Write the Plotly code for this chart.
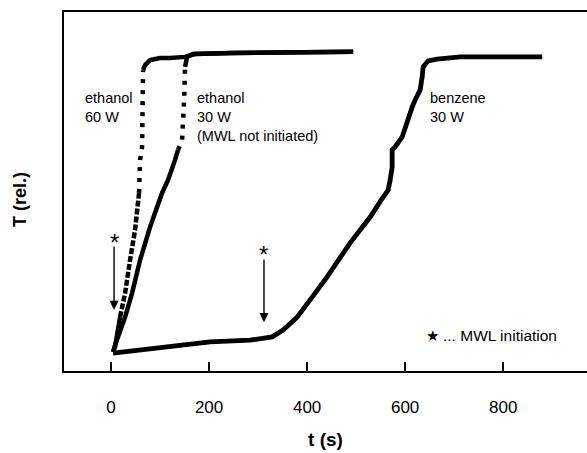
import plotly.graph_objects as go

# ---- data (t in s, T relative units 0..100) ----
eth60_t = [4.1, 8.2, 18.4, 28.6, 38.8, 49.0, 57.1, 59.2, 63.3, 65.3, 65.3, 69.4, 79.6, 100.0, 120.4, 151.0, 171.0, 250.0, 494.0]
eth60_T = [5.3, 6.7, 15.0, 21.7, 30.9, 39.3, 49.6, 58.8, 62.4, 72.7, 83.8, 85.2, 86.6, 87.2, 87.2, 87.5, 88.3, 88.6, 88.9]

eth30_t = [4.1, 8.2, 28.6, 42.9, 59.2, 79.6, 104.1, 116.3, 130.6, 136.7, 144.9, 149.0, 151.0, 155.1, 167.3, 242.9, 494.0]
eth30_T = [5.3, 7.2, 15.0, 21.7, 30.9, 40.1, 49.6, 53.2, 58.8, 61.6, 64.3, 75.5, 84.7, 87.5, 88.3, 88.6, 88.9]

benz_t = [4.1, 202.0, 283.7, 328.6, 351.0, 379.6, 406.1, 440.8, 487.8, 528.6, 551.0, 565.3, 569.4, 573.5, 573.5,
          579.6, 593.9, 604.1, 614.3, 620.4, 630.6, 634.7, 636.7, 646.9, 665.3, 712.2, 879.6]
benz_T = [5.0, 8.1, 8.6, 9.5, 11.4, 15.0, 19.8, 26.2, 35.7, 42.9, 47.6, 50.4, 53.2, 56.8, 61.6,
          62.4, 65.2, 69.9, 73.5, 75.5, 78.3, 81.9, 84.7, 86.4, 86.9, 87.5, 87.5]

x_ticks = [0, 200, 400, 600, 800]

# MWL initiation markers: (t of arrow, T of tip, T of tail, T of asterisk)
init_t = [6.1, 312.0]
init_tip = [17.0, 13.6]
init_tail = [35.1, 31.5]
init_star = [37.0, 33.7]

labels = ["ethanol<br>60 W", "ethanol<br>30 W<br>(MWL not initiated)", "benzene<br>30 W"]
label_t = [-57.1, 171.4, 647.0]
label_T = [73.4, 70.8, 73.4]

FONT = "Liberation Sans, Arial, sans-serif"

fig = go.Figure()

def seg(tt, TT, i0, i1, dash, width=4.5):
    fig.add_trace(go.Scatter(x=tt[i0:i1 + 1], y=TT[i0:i1 + 1], mode="lines",
                             line=dict(color="black", width=width, dash=dash),
                             hoverinfo="skip", showlegend=False))

# ethanol 60 W: solid start, dashed, sparse dotted, solid plateau
seg(eth60_t, eth60_T, 0, 2, "solid")
seg(eth60_t, eth60_T, 2, 6, "6px,2px")
seg(eth60_t, eth60_T, 6, 10, "4px,7px")
seg(eth60_t, eth60_T, 10, len(eth60_t) - 1, "solid")

# ethanol 30 W
seg(eth30_t, eth30_T, 0, 9, "solid")
seg(eth30_t, eth30_T, 9, 12, "4px,7px")
seg(eth30_t, eth30_T, 12, len(eth30_t) - 1, "solid")

# benzene 30 W
seg(benz_t, benz_T, 0, len(benz_t) - 1, "solid", width=4.8)

ann = []
for txt, xt, yt in zip(labels, label_t, label_T):
    ann.append(dict(x=xt, y=yt, text=txt, showarrow=False, xanchor="left", yanchor="middle",
                    align="left", font=dict(family=FONT, size=14.5, color="black")))

for t0, tip, tail, star in zip(init_t, init_tip, init_tail, init_star):
    ann.append(dict(x=t0, y=tip, ax=t0, ay=tail, axref="x", ayref="y", text="",
                    showarrow=True, arrowhead=2, arrowsize=1.3, arrowwidth=1.4, arrowcolor="black"))
    ann.append(dict(x=t0, y=star, text="*", showarrow=False, xanchor="center", yanchor="middle",
                    font=dict(family=FONT, size=24, color="black"), yshift=-4))

# legend note
ann.append(dict(x=647.0, y=10.0, text="★", showarrow=False, xanchor="left", yanchor="middle",
                font=dict(family="DejaVu Sans", size=15, color="black"), xshift=-4, yshift=-1))
ann.append(dict(x=647.0, y=10.0, text="... MWL initiation", showarrow=False, xanchor="left",
                yanchor="middle", xshift=13, font=dict(family=FONT, size=15.5, color="black")))

# y title (paper coords derived from pixel placement)
ann.append(dict(x=(20 - 64) / 523.0, y=(371 - 200) / 359.0, xref="paper", yref="paper",
                xanchor="center", yanchor="middle", text="<b>T (rel.)</b>", textangle=-90,
                showarrow=False, font=dict(family=FONT, size=18, color="black")))

fig.update_layout(
    width=587, height=453,
    margin=dict(l=64, r=0, t=12, b=82),
    paper_bgcolor="white", plot_bgcolor="white",
    annotations=ann,
    xaxis=dict(range=[-96, 971], tickvals=x_ticks, ticktext=[str(v) for v in x_ticks],
               ticks="inside", ticklen=9, tickwidth=1.5, tickcolor="black",
               showline=True, linecolor="black", linewidth=1.8, mirror=True,
               showgrid=False, zeroline=False, ticklabelstandoff=20,
               tickfont=dict(family=FONT, size=17, color="black"),
               title=dict(text="<b>t (s)</b>", font=dict(family=FONT, size=19, color="black"), standoff=16)),
    yaxis=dict(range=[0, 100], showticklabels=False, ticks="", showline=True, linecolor="black",
               linewidth=1.6, showgrid=False, zeroline=False),
)

fig.write_html("out.html", config={"displayModeBar": False},
               post_script="document.body.style.margin='0px';")
